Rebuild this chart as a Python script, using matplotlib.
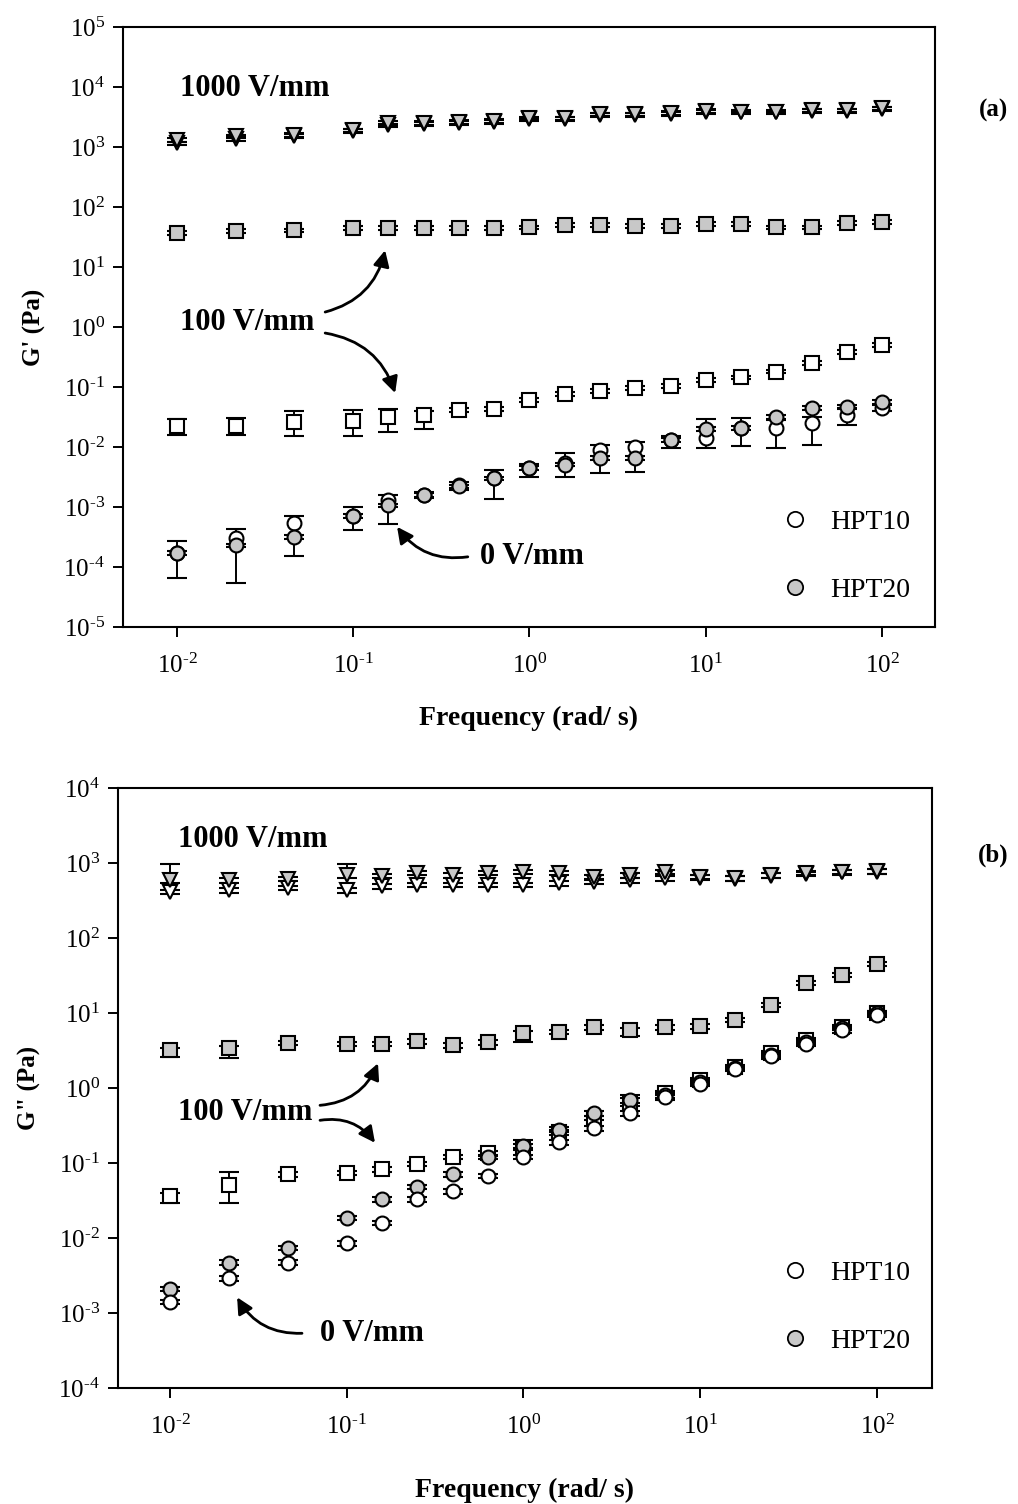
import matplotlib
matplotlib.use("Agg")
import matplotlib.pyplot as plt
import numpy as np
from matplotlib.ticker import NullLocator, FixedLocator, FuncFormatter
from matplotlib.lines import Line2D

plt.rcParams['font.family'] = ['Liberation Serif', 'DejaVu Serif']
plt.rcParams['mathtext.fontset'] = 'custom'
plt.rcParams['mathtext.rm'] = 'Liberation Serif'
plt.rcParams['mathtext.default'] = 'regular'

freq = [0.01, 0.0215, 0.0464, 0.1, 0.158, 0.251, 0.398, 0.631, 1.0, 1.58,
        2.51, 3.98, 6.31, 10.0, 15.8, 25.1, 39.8, 63.1, 100.0]

# ---- panel (a): G'
a_hpt10_1000 = [1150, 1350, 1550, 1850, 2300, 2400, 2500, 2600, 2900, 2950,
                3400, 3400, 3600, 3850, 3800, 3800, 4000, 4000, 4300]
a_hpt20_1000 = [1300, 1500, 1600, 1900, 2500, 2500, 2600, 2700, 3000, 3000,
                3500, 3500, 3700, 4000, 3900, 3900, 4100, 4100, 4400]
a_hpt20_100 = [37, 40, 41, 45, 45, 45, 45, 45, 46, 50, 50, 48, 48, 52, 52, 46, 46, 54, 56]
a_hpt10_100 = [0.022, 0.022, 0.026, 0.027, 0.032, 0.034, 0.041, 0.043, 0.06, 0.077,
               0.086, 0.096, 0.104, 0.13, 0.145, 0.18, 0.25, 0.39, 0.5]
a_hpt10_100_lo = [0.016, 0.016, 0.015, 0.015, 0.018, 0.02, 0.038, 0.04, 0.056, 0.072,
                  0.08, 0.09, 0.097, 0.12, 0.135, 0.17, 0.235, 0.36, 0.47]
a_hpt10_100_hi = [0.029, 0.03, 0.04, 0.042, 0.043, 0.04, 0.045, 0.047, 0.065, 0.083,
                  0.093, 0.103, 0.112, 0.14, 0.155, 0.19, 0.27, 0.42, 0.54]
a_hpt10_0 = [1.7e-4, 3.0e-4, 5.4e-4, 7.1e-4, 1.3e-3, 1.6e-3, 2.3e-3, 3.0e-3, 4.5e-3, 5.4e-3,
             8.9e-3, 0.010, 0.013, 0.014, 0.021, 0.021, 0.025, 0.034, 0.045]
a_hpt10_0_lo = [6.6e-5, 5.5e-5, 1.5e-4, 4.1e-4, 5.3e-4, 1.4e-3, 1.9e-3, 1.35e-3, 3.2e-3, 3.2e-3,
                3.7e-3, 3.9e-3, 0.0095, 0.0095, 0.0105, 0.0097, 0.011, 0.023, 0.04]
a_hpt10_0_hi = [2.7e-4, 4.3e-4, 7.0e-4, 1.0e-3, 1.6e-3, 1.8e-3, 2.6e-3, 4.2e-3, 5.3e-3, 8.0e-3,
                0.011, 0.012, 0.015, 0.029, 0.03, 0.028, 0.032, 0.045, 0.05]
a_hpt20_0 = [1.7e-4, 2.3e-4, 3.2e-4, 7.1e-4, 1.07e-3, 1.6e-3, 2.2e-3, 3.0e-3, 4.5e-3, 5.1e-3,
             6.6e-3, 6.6e-3, 0.013, 0.020, 0.021, 0.032, 0.045, 0.047, 0.056]

# ---- panel (b): G''
b_hpt10_1000 = [410, 435, 465, 435, 490, 510, 510, 510, 510, 540,
                560, 590, 630, 640, 620, 680, 720, 750, 770]
b_hpt20_1000 = [590, 590, 615, 690, 675, 735, 690, 735, 760, 735,
                650, 690, 760, 650, 630, 690, 735, 760, 780]
b_hpt20_1000_hi = [970, 640, 660, 970, 720, 780, 740, 780, 800, 780,
                   700, 740, 800, 690, 670, 730, 780, 800, 830]
b_hpt20_100 = [3.2, 3.4, 4.0, 3.9, 3.9, 4.2, 3.7, 4.1, 5.4, 5.6,
               6.5, 5.9, 6.5, 6.7, 8.1, 12.8, 25, 32, 45]
b_hpt20_100_lo = [2.6, 2.5, 3.7, 3.6, 3.6, 3.9, 3.4, 3.8, 4.1, 5.2,
                  6.0, 5.0, 6.0, 6.2, 7.5, 11.9, 23.5, 30, 42]
b_hpt10_100 = [0.036, 0.051, 0.071, 0.074, 0.083, 0.097, 0.12, 0.135, 0.16, 0.26,
               0.40, 0.63, 0.86, 1.28, 1.9, 2.9, 4.4, 6.5, 10]
b_hpt10_100_lo = [0.029, 0.029, 0.066, 0.069, 0.077, 0.09, 0.112, 0.125, 0.15, 0.24,
                  0.37, 0.58, 0.8, 1.19, 1.77, 2.7, 4.1, 6.0, 9.3]
b_hpt10_100_hi = [0.04, 0.075, 0.076, 0.079, 0.089, 0.104, 0.128, 0.145, 0.2, 0.28,
                  0.43, 0.8, 0.92, 1.37, 2.03, 3.1, 4.7, 7.0, 10.7]
b_hpt10_0 = [1.4e-3, 2.9e-3, 4.7e-3, 8.5e-3, 0.016, 0.033, 0.042, 0.067, 0.12, 0.19,
             0.29, 0.46, 0.75, 1.15, 1.8, 2.65, 3.9, 5.9, 9.5]
b_hpt20_0 = [2.1e-3, 4.7e-3, 7.4e-3, 0.0185, 0.033, 0.048, 0.071, 0.12, 0.17, 0.28,
             0.46, 0.69, 0.8, 1.2, 1.85, 2.75, 4.1, 6.3, 10]

gray = '#c8c8c8'


def series(ax, y, marker, face, lo=None, hi=None, ms=10):
    y = np.array(y)
    lo = y * 0.93 if lo is None else np.array(lo)
    hi = y * 1.07 if hi is None else np.array(hi)
    ax.errorbar(freq, y, yerr=[y - lo, hi - y], fmt=marker, ms=ms, mfc=face,
                mec='black', mew=1.5, ecolor='black', elinewidth=1.4,
                capsize=7, capthick=1.6, zorder=3)


def pow_label(v, pos):
    e = int(round(np.log10(v)))
    if e < 0:
        return r'$10^{\text{-}%d}$' % (-e)
    return r'$10^{%d}$' % e


def style(ax, ylim, xlim, ylabel, xpad):
    ax.set_xscale('log')
    ax.set_yscale('log')
    ax.set_xlim(*xlim)
    ax.set_ylim(*ylim)
    lo, hi = int(np.log10(ylim[0])), int(np.log10(ylim[1]))
    ax.yaxis.set_major_locator(FixedLocator([10.0 ** k for k in range(lo, hi + 1)]))
    ax.xaxis.set_major_locator(FixedLocator([1e-2, 1e-1, 1e0, 1e1, 1e2]))
    ax.xaxis.set_minor_locator(NullLocator())
    ax.yaxis.set_minor_locator(NullLocator())
    ax.xaxis.set_major_formatter(FuncFormatter(pow_label))
    ax.yaxis.set_major_formatter(FuncFormatter(pow_label))
    ax.tick_params(direction='out', length=7, width=1.4, labelsize=18, pad=6)
    ax.tick_params(axis='x', pad=12)
    for s in ax.spines.values():
        s.set_linewidth(1.5)
    ax.set_xlabel('Frequency (rad/ s)', fontsize=20, fontweight='bold', labelpad=xpad)
    ax.set_ylabel(ylabel, fontsize=18, fontweight='bold')
    ax.yaxis.set_label_coords(-0.095, 0.5)


def arrow(ax, start, tip, rad):
    ax.annotate('', xy=tip, xytext=start,
                arrowprops=dict(arrowstyle='-|>', connectionstyle='arc3,rad=%g' % rad,
                                lw=2, color='black', mutation_scale=24,
                                shrinkA=0, shrinkB=0))


def legend(ax, pos):
    h = [Line2D([], [], ls='none', marker='o', ms=11, mfc='white', mec='black', mew=1.3),
         Line2D([], [], ls='none', marker='o', ms=11, mfc=gray, mec='black', mew=1.3)]
    ax.legend(h, ['HPT10', 'HPT20'], loc='center', bbox_to_anchor=pos, frameon=False,
              fontsize=20, handlelength=1, handletextpad=0.8, labelspacing=1.55)


fig = plt.figure(figsize=(10.18, 15.04), dpi=100)

# panel (a)
ax1 = fig.add_axes([0.1208, 0.5831, 0.7976, 0.3989])
series(ax1, a_hpt10_1000, 'v', 'white', ms=10)
series(ax1, a_hpt20_1000, 'v', gray, ms=10)
series(ax1, a_hpt20_100, 's', gray, ms=10)
series(ax1, a_hpt10_100, 's', 'white', a_hpt10_100_lo, a_hpt10_100_hi, ms=10)
series(ax1, a_hpt10_0, 'o', 'white', a_hpt10_0_lo, a_hpt10_0_hi)
series(ax1, a_hpt20_0, 'o', gray)
style(ax1, (1e-5, 1e5), (10 ** -2.306, 10 ** 2.30), "G' (Pa)", 20)

ax1.text(10 ** -1.98, 10 ** 3.98, '1000 V/mm', fontsize=22, fontweight='bold', va='center')
ax1.text(10 ** -1.98, 10 ** 0.08, '100 V/mm', fontsize=22, fontweight='bold', va='center')
ax1.text(10 ** -0.28, 10 ** -3.83, '0 V/mm', fontsize=22, fontweight='bold', va='center')
arrow(ax1, (10 ** -1.159, 10 ** 0.25), (10 ** -0.819, 10 ** 1.28), 0.3)
arrow(ax1, (10 ** -1.159, 10 ** -0.10), (10 ** -0.762, 10 ** -1.10), -0.3)
arrow(ax1, (10 ** -0.35, 10 ** -3.83), (10 ** -0.751, 10 ** -3.33), -0.3)
legend(ax1, (0.89, 0.118))

# panel (b)
ax2 = fig.add_axes([0.1159, 0.0771, 0.7996, 0.3989])
series(ax2, b_hpt10_1000, 'v', 'white', ms=10)
series(ax2, b_hpt20_1000, 'v', gray, None, b_hpt20_1000_hi, ms=10)
series(ax2, b_hpt20_100, 's', gray, b_hpt20_100_lo, None, ms=10)
series(ax2, b_hpt10_100, 's', 'white', b_hpt10_100_lo, b_hpt10_100_hi, ms=10)
series(ax2, b_hpt20_0, 'o', gray)
series(ax2, b_hpt10_0, 'o', 'white')
style(ax2, (1e-4, 1e4), (10 ** -2.294, 10 ** 2.311), 'G" (Pa)', 28)

ax2.text(10 ** -1.955, 10 ** 3.31, '1000 V/mm', fontsize=22, fontweight='bold', va='center')
ax2.text(10 ** -1.955, 10 ** -0.33, '100 V/mm', fontsize=22, fontweight='bold', va='center')
ax2.text(10 ** -1.151, 10 ** -3.27, '0 V/mm', fontsize=22, fontweight='bold', va='center')
arrow(ax2, (10 ** -1.151, 10 ** -0.23), (10 ** -0.823, 10 ** 0.33), 0.3)
arrow(ax2, (10 ** -1.151, 10 ** -0.43), (10 ** -0.84, 10 ** -0.73), -0.3)
arrow(ax2, (10 ** -1.253, 10 ** -3.27), (10 ** -1.62, 10 ** -2.79), -0.3)
legend(ax2, (0.894, 0.135))

fig.text(993 / 1018, 1 - 110 / 1504, '(a)', fontsize=18, fontweight='bold', ha='center', va='center')
fig.text(993 / 1018, 1 - 855 / 1504, '(b)', fontsize=18, fontweight='bold', ha='center', va='center')

fig.savefig('out.png', dpi=100)
